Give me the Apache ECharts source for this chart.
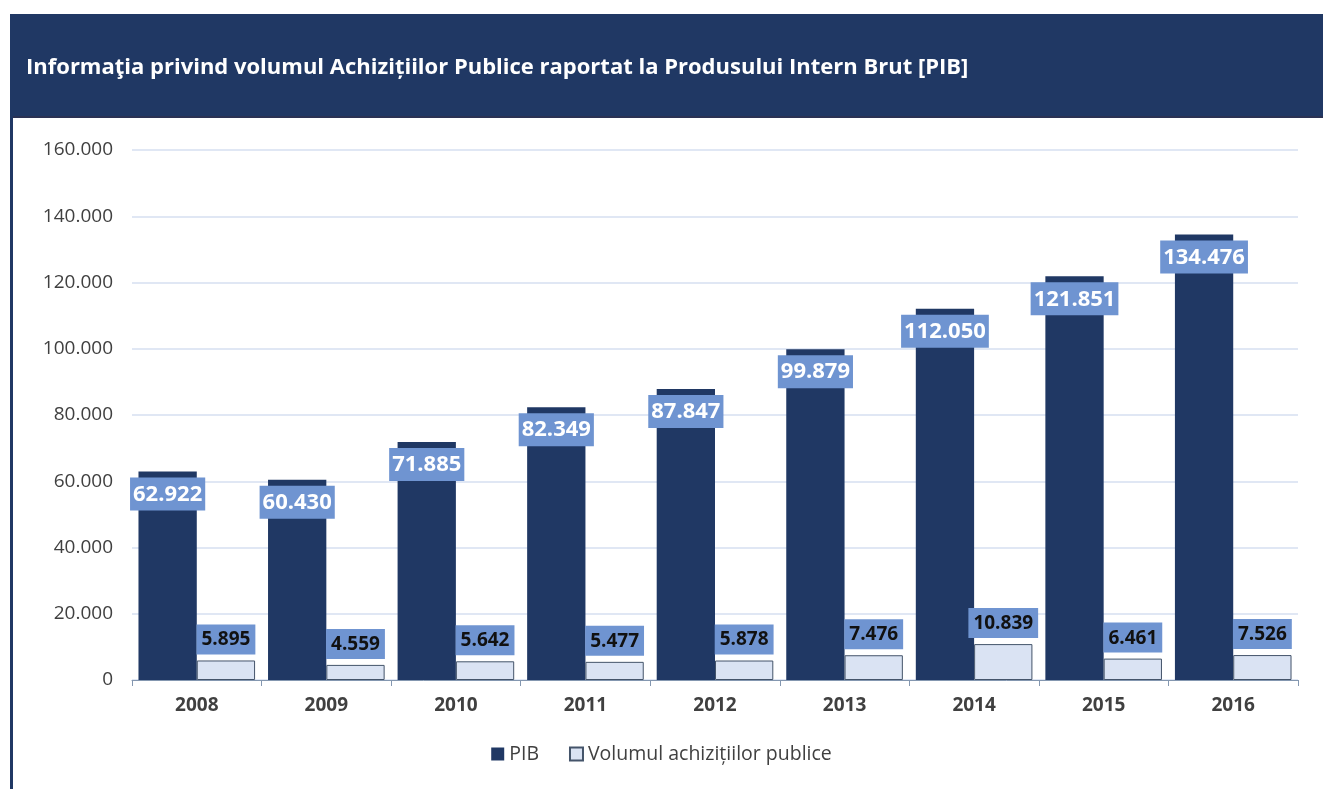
<!DOCTYPE html>
<html><head><meta charset="utf-8">
<script src="https://cdn.jsdelivr.net/npm/echarts@6/dist/echarts.min.js"></script>
<style>html,body{margin:0;padding:0;background:#fff}#c{width:1323px;height:789px}</style>
</head><body><div id="c"></div>
<script>
const titleText = 'Informaţia privind volumul Achizițiilor Publice raportat la Produsului Intern Brut [PIB]';
const years = ['2008','2009','2010','2011','2012','2013','2014','2015','2016'];
const pib = [62922, 60430, 71885, 82349, 87847, 99879, 112050, 121851, 134476];
const volum = [5895, 4559, 5642, 5477, 5878, 7476, 10839, 6461, 7526];
const seriesNames = ['PIB', 'Volumul achizițiilor publice'];

function fmt(v){ return String(v).replace(/\B(?=(\d{3})+(?!\d))/g, '.'); }
const FONT = '"Open Sans", "DejaVu Sans", sans-serif';
const chart = echarts.init(document.getElementById('c'), null, {renderer:'canvas'});
chart.setOption({
  animation:false,
  textStyle:{fontFamily:FONT},
  graphic:[
    {type:'rect', shape:{x:10,y:14,width:1313,height:104}, style:{fill:'#203864'}, z:0},
    {type:'rect', shape:{x:10,y:116,width:1313,height:2}, style:{fill:'#2B3253'}, z:1},
    {type:'rect', shape:{x:10,y:14,width:3,height:775}, style:{fill:'#203864'}, z:1},
    {type:'text', left:26, top:57, style:{text:titleText, fill:'#ffffff', font:'bold 22px ' + FONT}, z:2}
  ],
  grid:{left:132, right:25, top:150, bottom:109},
  legend:{
    top:739, left:'center', itemWidth:13, itemHeight:13, itemGap:30, icon:'rect',
    textStyle:{fontSize:19.5, color:'#404040', fontFamily:FONT},
    data:seriesNames
  },
  xAxis:{
    type:'category', data:years,
    axisLine:{lineStyle:{color:'#8497B0', width:1}},
    axisTick:{show:true, length:6, lineStyle:{color:'#8497B0'}},
    axisLabel:{fontSize:19, fontWeight:'bold', color:'#404040', margin:16}
  },
  yAxis:{
    type:'value', min:0, max:160000, interval:20000,
    axisLine:{show:false}, axisTick:{show:false},
    splitLine:{lineStyle:{color:'#D6DFF0', width:1.5}},
    axisLabel:{fontSize:19, color:'#404040', margin:19, formatter:fmt}
  },
  series:[
    {
      name:seriesNames[0], type:'bar', data:pib, barCategoryGap:'10%', barGap:'0%',
      itemStyle:{color:'#203864'},
      label:{show:true, position:'insideTop', distance:6, formatter:p=>fmt(p.value),
        fontSize:22, fontWeight:'bold', color:'#ffffff', backgroundColor:'#6F94D1', padding:[6,3,5,3]}
    },
    {
      name:seriesNames[1], type:'bar', data:volum,
      itemStyle:{color:'#DAE3F3', borderColor:'#44546A', borderWidth:1},
      label:{show:true, position:'top', distance:6, formatter:p=>fmt(p.value),
        fontSize:19, fontWeight:'bold', color:'#111111', backgroundColor:'#6F94D1', padding:[6,5,5,5]}
    }
  ]
});
</script></body></html>
